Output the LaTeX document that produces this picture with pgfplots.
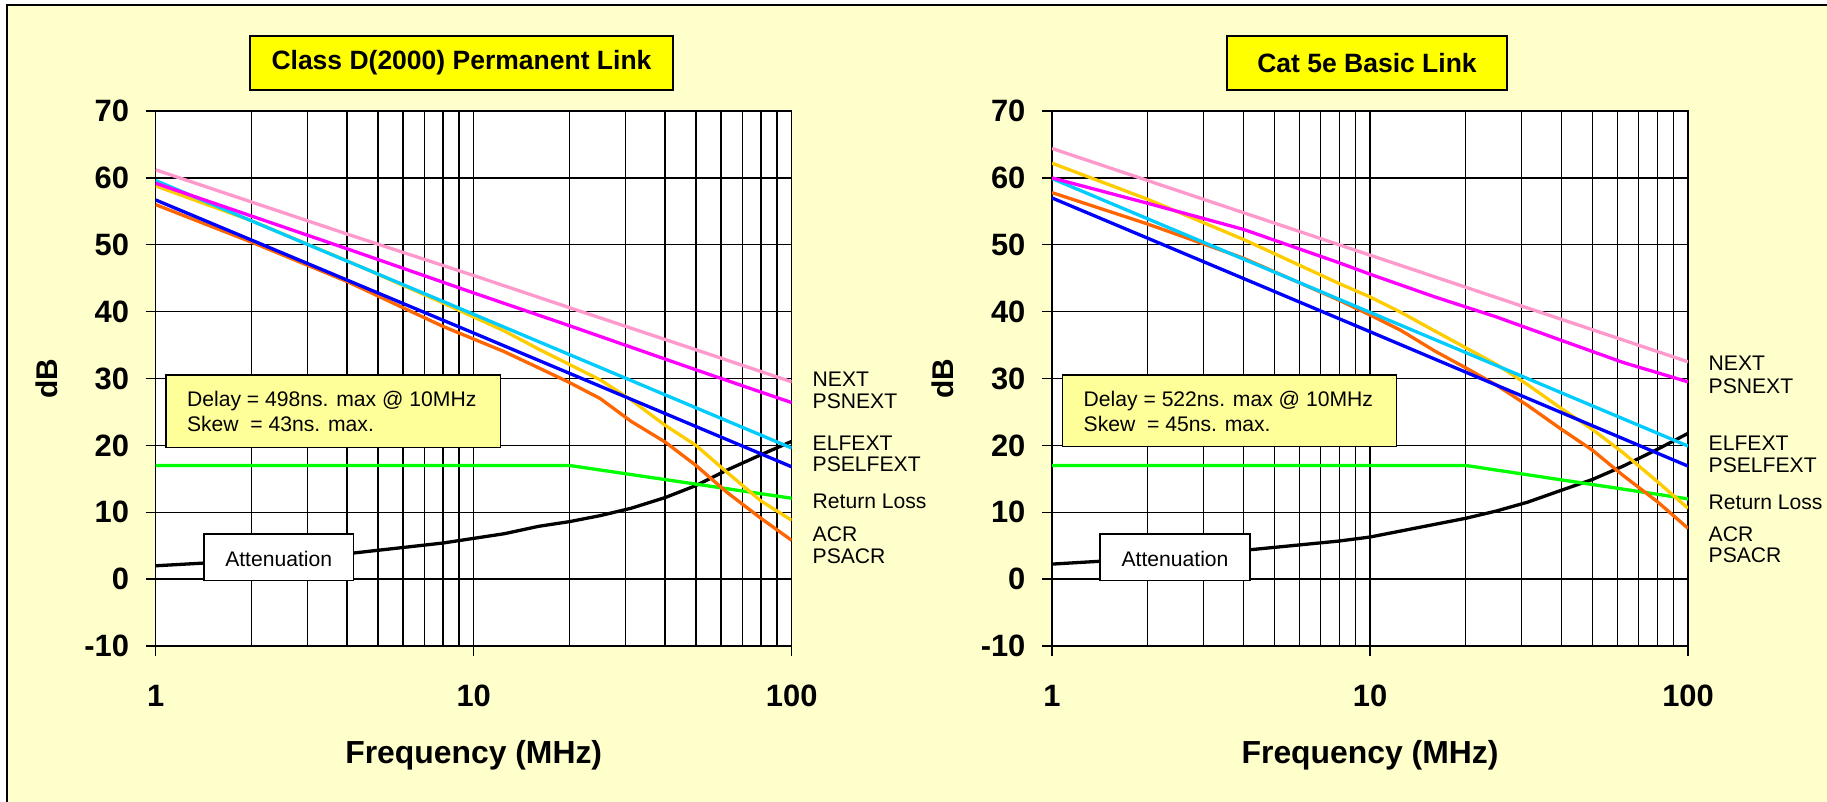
\documentclass[border=0pt]{standalone}
\usepackage{pgfplots}
\pgfplotsset{compat=1.18}
\usepackage{fontspec}
\setmainfont{Liberation Sans}

\definecolor{bgyellow}{HTML}{FFFFCC}
\definecolor{boxyellow}{HTML}{FFFF99}
\definecolor{titleyellow}{HTML}{FFFF00}
\definecolor{cNEXT}{HTML}{FF99CC}
\definecolor{cPSNEXT}{HTML}{FF00FF}
\definecolor{cELFEXT}{HTML}{00CCFF}
\definecolor{cPSELFEXT}{HTML}{0000FF}
\definecolor{cRL}{HTML}{00FF00}
\definecolor{cACR}{HTML}{FFCC00}
\definecolor{cPSACR}{HTML}{FF6600}

\tikzset{smalltext/.style={font=\fontsize{10.6}{12}\selectfont}}

\begin{document}
\begin{tikzpicture}
% page background
\begin{scope}[x=0.5bp, y=-0.5bp]
  \useasboundingbox (0,0) rectangle (1827,802);
  \fill[white] (0,0) rectangle (1827,802);
  \fill[bgyellow] (7,5) rectangle (1827,802);
  \draw[line width=1.25bp] (7,802) -- (7,5) -- (1827,5);
\end{scope}

% ---- Class D(2000) Permanent Link ----
\begin{axis}[
    at={(77.85bp,-323bp)}, anchor=south west,
    scale only axis, width=318bp, height=267.5bp,
    xmode=log, xmin=1, xmax=100, ymin=-10, ymax=70,
    xtick={1,10,100}, xticklabels={1,10,100},
    minor xtick={2,3,4,5,6,7,8,9,20,30,40,50,60,70,80,90},
    ytick={-10,0,10,20,30,40,50,60,70},
    yticklabels={-10,0,10,20,30,40,50,60,70},
    xmajorgrids, xminorgrids, ymajorgrids,
    grid style={black, line width=0.7bp},
    minor grid style={black, line width=0.7bp},
    axis line style={black, line width=0.7bp},
    axis background/.style={fill=white},
    tick align=outside, tick pos=left,
    major tick length=5bp, minor tick length=0pt,
    tick style={black, line width=0.7bp},
    ticklabel style={font=\fontsize{15.5}{18}\selectfont\bfseries},
    xticklabel style={anchor=center, yshift=-20.1bp},
    yticklabel style={anchor=east, xshift=-4.8bp},
    label style={font=\fontsize{16}{19}\selectfont\bfseries},
    xlabel={Frequency (MHz)}, ylabel={dB},
    xlabel style={at={(axis description cs:0.5,0)}, anchor=center, yshift=-54.5bp},
    ylabel style={at={(axis description cs:0,0.5)}, anchor=center, yshift=54.5bp,
                  font=\fontsize{15}{18}\selectfont\bfseries},
    every axis plot post/.append style={line width=1.65bp, no markers},
  ]
  \addplot[black] coordinates {(1,2.0) (2,2.8) (4,3.8) (8,5.4) (10,6.1) (12.5,6.8) (16,7.9) (20,8.6) (25,9.5) (31.25,10.6) (40,12.2) (50,14.0) (62.5,16.3) (80,18.6) (100,20.6)};
  \addplot[cRL] coordinates {(1,17) (20,17) (100,12.1)};
  \addplot[cPSACR] coordinates {(1,56.0) (2,50.4) (4,44.5) (8,37.8) (10,35.9) (12.5,34.0) (16,31.6) (20,29.4) (25,27.0) (31.25,23.6) (40,20.5) (50,17.0) (62.5,13.0) (80,9.1) (100,5.8)};
  \addplot[cACR] coordinates {(1,58.8) (2,53.6) (4,47.6) (8,41.3) (10,39.2) (12.5,37.1) (16,34.4) (20,32.1) (25,29.8) (31.25,26.8) (40,23.0) (50,20.0) (62.5,16.0) (80,11.7) (100,8.8)};
  \addplot[cPSELFEXT] coordinates {(1,56.7) (10,36.8) (100,16.8)};
  \addplot[cELFEXT] coordinates {(1,59.6) (10,39.6) (100,19.6)};
  \addplot[cPSNEXT] coordinates {(1,59.2) (4,49.4) (10,42.8) (20,37.9) (50,31.3) (100,26.4)};
  \addplot[cNEXT] coordinates {(1,61.2) (4,51.6) (10,45.4) (20,40.6) (50,34.3) (100,29.5)};
\end{axis}

% ---- Cat 5e Basic Link ----
\begin{axis}[
    at={(526bp,-323bp)}, anchor=south west,
    scale only axis, width=318bp, height=267.5bp,
    xmode=log, xmin=1, xmax=100, ymin=-10, ymax=70,
    xtick={1,10,100}, xticklabels={1,10,100},
    minor xtick={2,3,4,5,6,7,8,9,20,30,40,50,60,70,80,90},
    ytick={-10,0,10,20,30,40,50,60,70},
    yticklabels={-10,0,10,20,30,40,50,60,70},
    xmajorgrids, xminorgrids, ymajorgrids,
    grid style={black, line width=0.7bp},
    minor grid style={black, line width=0.7bp},
    axis line style={black, line width=0.7bp},
    axis background/.style={fill=white},
    tick align=outside, tick pos=left,
    major tick length=5bp, minor tick length=0pt,
    tick style={black, line width=0.7bp},
    ticklabel style={font=\fontsize{15.5}{18}\selectfont\bfseries},
    xticklabel style={anchor=center, yshift=-20.1bp},
    yticklabel style={anchor=east, xshift=-4.8bp},
    label style={font=\fontsize{16}{19}\selectfont\bfseries},
    xlabel={Frequency (MHz)}, ylabel={dB},
    xlabel style={at={(axis description cs:0.5,0)}, anchor=center, yshift=-54.5bp},
    ylabel style={at={(axis description cs:0,0.5)}, anchor=center, yshift=54.5bp,
                  font=\fontsize{15}{18}\selectfont\bfseries},
    every axis plot post/.append style={line width=1.65bp, no markers},
  ]
  \addplot[black] coordinates {(1,2.25) (2,3.1) (4,4.3) (8,5.7) (10,6.3) (12.5,7.2) (16,8.2) (20,9.1) (25,10.2) (31.25,11.5) (40,13.3) (50,14.9) (62.5,16.9) (80,19.4) (100,21.8)};
  \addplot[cRL] coordinates {(1,17) (20,17) (100,12.0)};
  \addplot[cPSACR] coordinates {(1,57.8) (2,53.1) (4,48.0) (8,41.7) (10,39.5) (12.5,37.2) (16,34.1) (20,31.6) (25,29.0) (31.25,26.0) (40,22.4) (50,19.3) (62.5,15.5) (80,11.6) (100,7.6)};
  \addplot[cACR] coordinates {(1,62.2) (2,56.8) (4,50.8) (8,44.2) (10,42.2) (12.5,39.9) (16,37.1) (20,34.6) (25,32.1) (31.25,29.1) (40,25.5) (50,22.4) (62.5,18.9) (80,14.6) (100,10.6)};
  \addplot[cPSELFEXT] coordinates {(1,57.0) (10,37.0) (100,16.9)};
  \addplot[cELFEXT] coordinates {(1,59.9) (10,39.9) (100,19.9)};
  \addplot[cPSNEXT] coordinates {(1,60.0) (2,56.2) (4,52.3) (8,47.3) (10,45.6) (16,42.2) (20,40.7) (25,39.2) (40,35.7) (62.5,32.4) (100,29.5)};
  \addplot[cNEXT] coordinates {(1,64.4) (10,48.45) (100,32.5)};
\end{axis}

% ---- titles, notes and line names ----
\begin{scope}[x=0.5bp, y=-0.5bp]
  \node[draw=black, line width=1bp, fill=titleyellow, minimum width=211.5bp, minimum height=27bp,
        font=\fontsize{13.3}{16}\selectfont\bfseries] at (461.5,63) {Class D(2000) Permanent Link};
  \node[draw=black, line width=1bp, fill=titleyellow, minimum width=140.4bp, minimum height=27bp,
        font=\fontsize{13.3}{16}\selectfont\bfseries] at (1367,63) {Cat 5e Basic Link};

  % left chart notes
  \draw[line width=0.65bp, fill=boxyellow] (166,375) rectangle (500.7,447.3);
  \node[smalltext, anchor=base west, inner sep=0pt] at (186.7,406) {Delay = 498ns. max @ 10MHz};
  \node[smalltext, anchor=base west, inner sep=0pt] at (186.7,431.7) {Skew\ \ = 43ns. max.};
  \draw[line width=0.65bp, fill=white] (204,534) rectangle (353.3,580.7);
  \node[smalltext, inner sep=0pt] at (278.7,558.5) {Attenuation};

  % right chart notes
  \draw[line width=0.65bp, fill=boxyellow] (1062.7,375) rectangle (1396.7,446.7);
  \node[smalltext, anchor=base west, inner sep=0pt] at (1083.3,406) {Delay = 522ns. max @ 10MHz};
  \node[smalltext, anchor=base west, inner sep=0pt] at (1083.3,431.7) {Skew\ \ = 45ns. max.};
  \draw[line width=0.65bp, fill=white] (1100,534) rectangle (1250,580.7);
  \node[smalltext, inner sep=0pt] at (1175,558.5) {Attenuation};

  % line names, left
  \foreach \t/\yy in {NEXT/386.7, PSNEXT/408.3, ELFEXT/450, PSELFEXT/471.5, Return Loss/508.3, ACR/541.5, PSACR/563.3}
    \node[smalltext, anchor=base west, inner sep=0pt] at (812.3,\yy) {\t};
  % line names, right
  \foreach \t/\yy in {NEXT/370.8, PSNEXT/393, ELFEXT/450.3, PSELFEXT/472.3, Return Loss/509.2, ACR/541.7, PSACR/562.7}
    \node[smalltext, anchor=base west, inner sep=0pt] at (1708.3,\yy) {\t};
\end{scope}
\end{tikzpicture}
\end{document}
